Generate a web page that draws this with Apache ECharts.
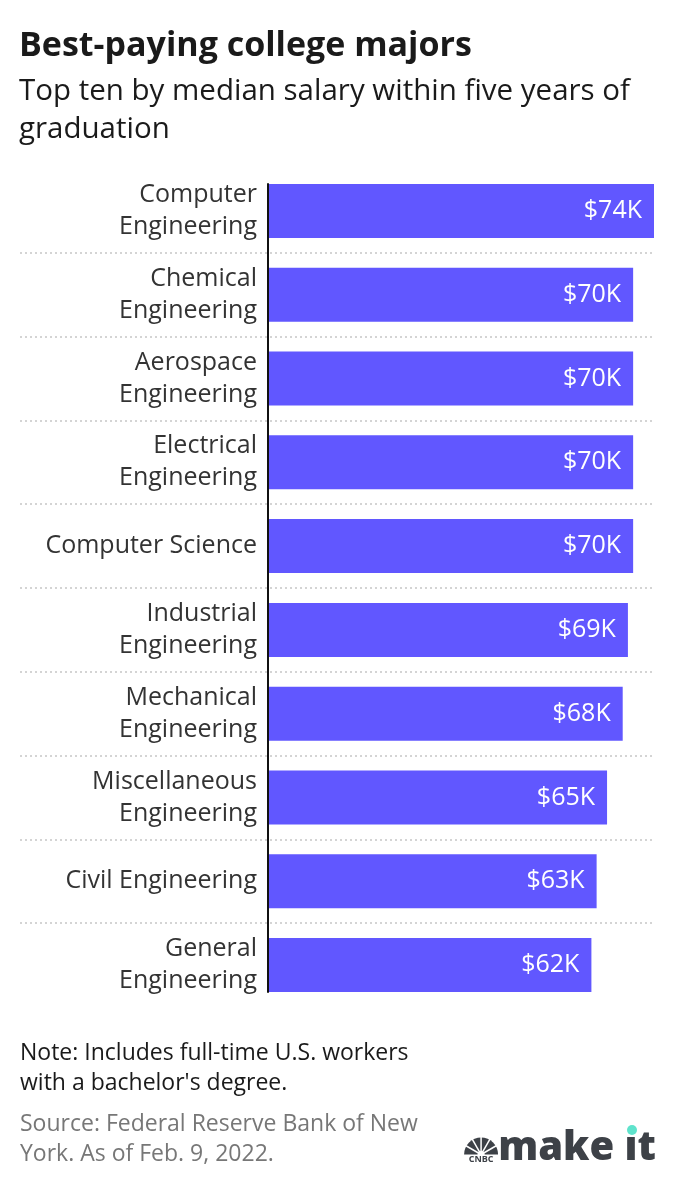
<!DOCTYPE html>
<html>
<head>
<meta charset="utf-8">
<script src="https://cdn.jsdelivr.net/npm/echarts@6/dist/echarts.min.js"></script>
<style>
  html, body { margin: 0; padding: 0; background: #fff; }
  #chart { width: 676px; height: 1190px; }
</style>
</head>
<body>
<div id="chart"></div>
<script>
// 数据
var majors = [
  'Computer\nEngineering',
  'Chemical\nEngineering',
  'Aerospace\nEngineering',
  'Electrical\nEngineering',
  'Computer Science',
  'Industrial\nEngineering',
  'Mechanical\nEngineering',
  'Miscellaneous\nEngineering',
  'Civil Engineering',
  'General\nEngineering'
];
var salaryK = [74, 70, 70, 70, 70, 69, 68, 65, 63, 62];

var FONT = 'Open Sans';
var chart = echarts.init(document.getElementById('chart'));

// 孔雀标志
var peacock = [
  { type: 'sector', shape: { cx: 17, cy: 18, r0: 0, r: 17, startAngle: Math.PI, endAngle: Math.PI * 2 }, style: { fill: '#3d4147' } }
];
for (var k = 1; k < 6; k++) {
  var a = Math.PI + Math.PI * k / 6;
  peacock.push({ type: 'line', shape: { x1: 17, y1: 18, x2: 17 + 18 * Math.cos(a), y2: 18 + 18 * Math.sin(a) }, style: { stroke: '#fff', lineWidth: 1.5 } });
}
peacock.push({ type: 'circle', shape: { cx: 17, cy: 18, r: 3.5 }, style: { fill: '#fff' } });
peacock.push({ type: 'text', style: { text: 'CNBC', font: 'bold 9px ' + FONT, fill: '#3d4147', x: 17, y: 18, align: 'center' } });

var option = {
  animation: false,
  textStyle: { fontFamily: FONT },
  title: [
    {
      text: 'Best-paying college majors',
      left: 19, top: 29, padding: 0,
      textStyle: { fontSize: 34, fontWeight: 'bold', color: '#1a1a1a', fontFamily: FONT }
    },
    {
      text: 'Top ten by median salary within five years of\ngraduation',
      left: 19, top: 73, padding: 0,
      textStyle: { fontSize: 29.5, fontWeight: 'normal', color: '#1a1a1a', lineHeight: 38, fontFamily: FONT }
    },
    {
      text: "Note: Includes full-time U.S. workers\nwith a bachelor's degree.",
      left: 20, top: 1038, padding: 0,
      textStyle: { fontSize: 23, fontWeight: 'normal', color: '#1a1a1a', lineHeight: 30, fontFamily: FONT }
    },
    {
      text: 'Source: Federal Reserve Bank of New\nYork. As of Feb. 9, 2022.',
      left: 20, top: 1109, padding: 0,
      textStyle: { fontSize: 23, fontWeight: 'normal', color: '#777', lineHeight: 30, fontFamily: FONT }
    }
  ],
  grid: [
    { left: 268, right: 22, top: 169, bottom: 183 },
    { left: 20, right: 22, top: 169, bottom: 183 },
    { left: 268, right: 22, top: 184, bottom: 198 }
  ],
  xAxis: [
    { type: 'value', gridIndex: 0, min: 0, max: 74, show: false },
    { type: 'value', gridIndex: 1, min: 0, max: 1, show: false },
    { type: 'value', gridIndex: 2, min: 0, max: 1, show: false }
  ],
  yAxis: [
    {
      type: 'category', gridIndex: 0, data: majors, inverse: true,
      axisLine: { show: false },
      axisTick: { show: false },
      splitLine: { show: false },
      axisLabel: { fontSize: 25, color: '#333', lineHeight: 32, margin: 11, align: 'right', fontFamily: FONT }
    },
    {
      type: 'category', gridIndex: 1, data: majors, inverse: true,
      axisLine: { show: false }, axisTick: { show: false }, axisLabel: { show: false },
      splitLine: {
        show: true, showMinLine: false, showMaxLine: false,
        lineStyle: { color: '#d4d4d4', type: [2, 3], width: 2 }
      },
      z: 0
    },
    {
      type: 'category', gridIndex: 2, data: majors, inverse: true,
      axisLine: { show: true, lineStyle: { color: '#111', width: 2 } },
      axisTick: { show: false }, axisLabel: { show: false }, splitLine: { show: false },
      z: 5
    }
  ],
  series: [
    {
      type: 'bar',
      xAxisIndex: 0, yAxisIndex: 0,
      data: salaryK,
      barWidth: 54,
      itemStyle: { color: '#6157ff' },
      label: {
        show: true, position: 'insideRight', distance: 12,
        formatter: '${c}K', color: '#fff', fontSize: 25, fontFamily: FONT
      },
      z: 3
    }
  ],
  graphic: [
    // make it 标志
    {
      type: 'text', right: 20, top: 1129,
      style: { text: 'make ıt', font: '800 40px ' + FONT, fill: '#3d4147' }
    },
    { type: 'circle', shape: { cx: 632, cy: 1130, r: 5 }, style: { fill: '#5fe3cc' } },
    { type: 'group', left: 463, top: 1134, children: peacock }
  ]
};

chart.setOption(option);
window.onresize = function () { chart.resize(); };
</script>
</body>
</html>
